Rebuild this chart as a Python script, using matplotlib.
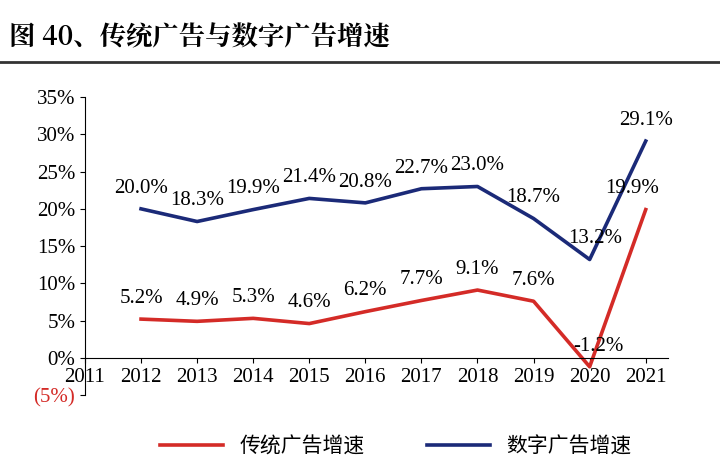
import matplotlib.pyplot as plt

plt.rcParams['font.family'] = ['Liberation Serif', 'Noto Sans CJK SC']

years = [2012, 2013, 2014, 2015, 2016, 2017, 2018, 2019, 2020, 2021]
traditional = [5.2, 4.9, 5.3, 4.6, 6.2, 7.7, 9.1, 7.6, -1.2, 19.9]
digital = [20.0, 18.3, 19.9, 21.4, 20.8, 22.7, 23.0, 18.7, 13.2, 29.1]
yticks = [-5, 0, 5, 10, 15, 20, 25, 30, 35]
xticks = list(range(2011, 2022))

red = '#d42b27'
navy = '#1b2a78'

fig = plt.figure(figsize=(7.2, 4.76), dpi=100)
fig.text(0.012, 0.905, '图 40、传统广告与数字广告增速', fontsize=19, fontweight='bold',
         family=['Noto Serif CJK SC', 'Noto Sans CJK SC', 'DejaVu Sans'])
fig.add_artist(plt.Line2D([0.0, 1.0], [0.87, 0.87], color='#333333', lw=2))

ax = fig.add_axes([0.118, 0.17, 0.81, 0.626])
l1, = ax.plot(years, traditional, color=red, lw=2.6, label='传统广告增速')
l2, = ax.plot(years, digital, color=navy, lw=2.6, label='数字广告增速')

for x, y in zip(years, traditional):
    dx = 0
    if x == 2020:
        dx = 0.15
    if x == 2021:
        dx = -0.25
    ax.text(x + dx, y + 1.5, f'{y:.1f}%', ha='center', va='bottom', fontsize=15)
for x, y in zip(years, digital):
    dx = 0
    if x == 2020:
        dx = 0.1
    ax.text(x + dx, y + 1.5, f'{y:.1f}%', ha='center', va='bottom', fontsize=15)

ax.set_xlim(2011, 2021.4)
ax.set_ylim(-5, 35)
ax.set_xticks(xticks)
ax.set_yticks(yticks)
ax.set_yticklabels(['(5%)'] + [f'{v}%' for v in yticks[1:]])
ax.get_yticklabels()[0].set_color(red)
ax.tick_params(labelsize=15, direction='out')
ax.spines['bottom'].set_position(('data', 0))
ax.spines['top'].set_visible(False)
ax.spines['right'].set_visible(False)

fig.legend(handles=[l1, l2], loc='lower center', ncol=2, frameon=False,
           bbox_to_anchor=(0.55, 0.0), handlelength=3, columnspacing=3,
           prop={'family': ['Noto Sans CJK SC'], 'size': 15})

fig.savefig('out.png')
